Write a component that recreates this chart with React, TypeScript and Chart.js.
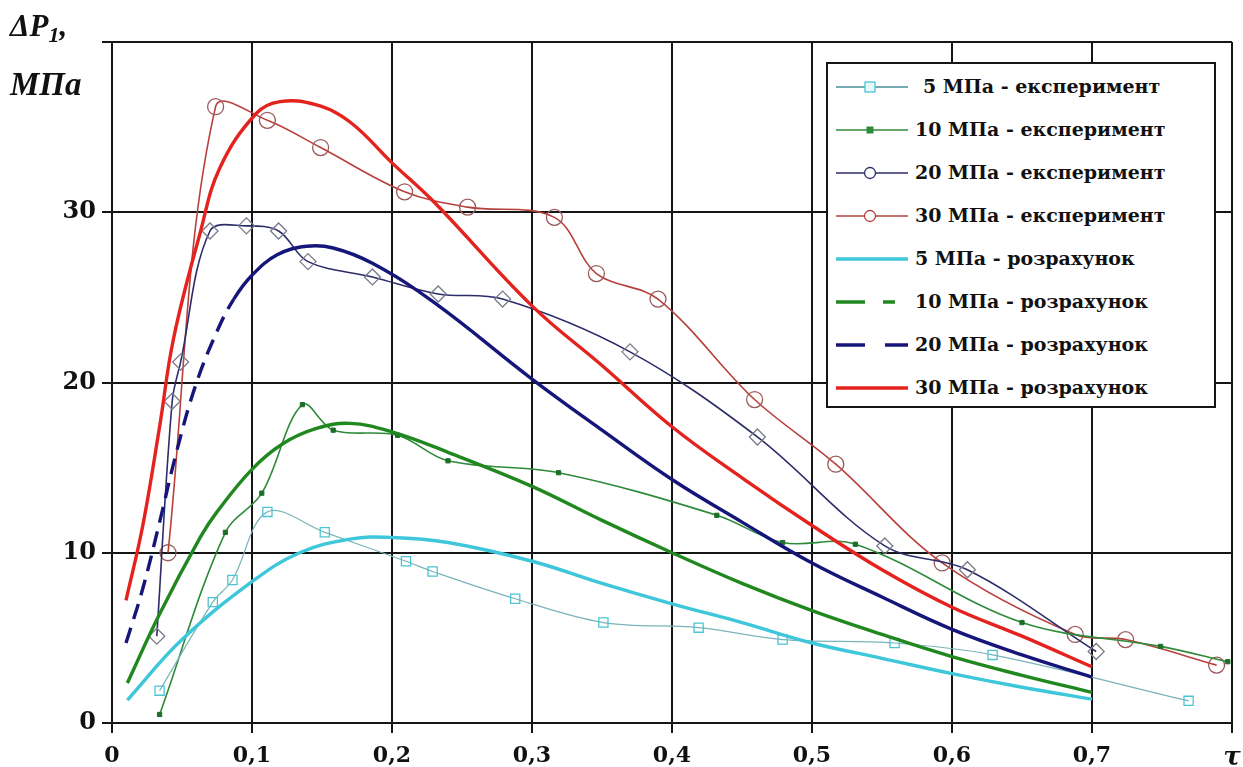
import React, { useEffect, useRef } from "react";
import { Chart, registerables } from "chart.js";

Chart.register(...registerables);

// ---- Data ----
const tau5e = [0.034, 0.072, 0.086, 0.111, 0.152, 0.21, 0.229, 0.288, 0.351, 0.419, 0.479, 0.559, 0.629, 0.769];
const p5e = [1.9, 7.1, 8.4, 12.4, 11.2, 9.5, 8.9, 7.3, 5.9, 5.6, 4.9, 4.7, 4.0, 1.3];

const tau10e = [0.034, 0.081, 0.107, 0.136, 0.158, 0.204, 0.24, 0.319, 0.432, 0.479, 0.531, 0.65, 0.749, 0.797];
const p10e = [0.5, 11.2, 13.5, 18.7, 17.2, 16.9, 15.4, 14.7, 12.2, 10.6, 10.5, 5.9, 4.5, 3.6];

const tau20e = [0.032, 0.043, 0.049, 0.07, 0.096, 0.119, 0.14, 0.186, 0.233, 0.279, 0.37, 0.461, 0.552, 0.611, 0.703];
const p20e = [5.1, 18.9, 21.2, 28.9, 29.2, 28.9, 27.1, 26.2, 25.2, 24.9, 21.8, 16.8, 10.4, 9.0, 4.2];

const tau30e = [0.04, 0.074, 0.111, 0.149, 0.209, 0.254, 0.316, 0.346, 0.39, 0.459, 0.517, 0.593, 0.688, 0.724, 0.789];
const p30e = [10.0, 36.2, 35.4, 33.8, 31.2, 30.3, 29.7, 26.4, 24.9, 19.0, 15.2, 9.4, 5.2, 4.9, 3.4];

const tau5c = [0.011, 0.05, 0.1, 0.134, 0.17, 0.2, 0.24, 0.3, 0.35, 0.4, 0.45, 0.5, 0.55, 0.6, 0.65, 0.7];
const p5c = [1.35, 4.9, 8.3, 10.0, 10.8, 10.9, 10.6, 9.5, 8.2, 7.0, 5.9, 4.7, 3.8, 2.9, 2.1, 1.4];

const tau10c = [0.011, 0.034, 0.063, 0.075, 0.1, 0.122, 0.146, 0.17, 0.2, 0.24, 0.3, 0.35, 0.4, 0.45, 0.5, 0.55, 0.6, 0.65, 0.7];
const p10c = [2.35, 6.4, 10.9, 12.4, 14.9, 16.4, 17.3, 17.6, 17.1, 15.9, 13.9, 11.9, 10.0, 8.2, 6.6, 5.2, 3.9, 2.8, 1.8];

const tau20c = [0.01, 0.022, 0.034, 0.046, 0.06, 0.075, 0.087, 0.1, 0.118, 0.139, 0.158, 0.186, 0.23, 0.3, 0.35, 0.4, 0.45, 0.5, 0.55, 0.6, 0.65, 0.7];
const p20c = [4.7, 7.9, 11.8, 15.9, 19.9, 23.0, 24.9, 26.3, 27.5, 28.0, 27.9, 27.0, 24.7, 20.2, 17.2, 14.3, 11.8, 9.4, 7.4, 5.5, 4.0, 2.7];

const tau30c = [0.01, 0.022, 0.034, 0.044, 0.063, 0.077, 0.103, 0.12, 0.146, 0.17, 0.2, 0.23, 0.3, 0.35, 0.4, 0.45, 0.5, 0.55, 0.6, 0.65, 0.7];
const p30c = [7.2, 11.6, 17.4, 22.6, 28.8, 32.6, 35.8, 36.5, 36.3, 35.3, 32.9, 30.6, 24.5, 21.0, 17.4, 14.4, 11.6, 9.0, 6.8, 5.1, 3.3];

const xTicks = [0, 0.1, 0.2, 0.3, 0.4, 0.5, 0.6, 0.7, 0.8];
const xTickLabels = ["0", "0,1", "0,2", "0,3", "0,4", "0,5", "0,6", "0,7", "τ"];
const yTickLabels = ["0", "10", "20", "30", ""];

const legendLabels = [
  "5 МПа - експеримент",
  "10 МПа - експеримент",
  "20 МПа - експеримент",
  "30 МПа - експеримент",
  "5 МПа - розрахунок",
  "10 МПа - розрахунок",
  "20 МПа - розрахунок",
  "30 МПа - розрахунок",
];

const pts = (xs: number[], ys: number[]) => xs.map((x, i) => ({ x, y: ys[i] }));

const C5e = "#7ab3bb";
const C5eMark = "#4cc4d4";
const C10e = "#2f8a3a";
const C20e = "#2c2c6a";
const C20eMark = "#7a7a8a";
const C30e = "#b8403c";
const C30eMark = "#9c5a5a";
const C5c = "#3ec6da";
const C10c = "#21881f";
const C20c = "#16167a";
const C30c = "#e4221e";

const FONT = "'DejaVu Serif', serif";

function LegendSample({ i }: { i: number }) {
  const w = 72, h = 20, cy = 10, mx = 34;
  const line = (color: string, width: number, x1 = 0, x2 = w) => (
    <line x1={x1} y1={cy} x2={x2} y2={cy} stroke={color} strokeWidth={width} />
  );
  let content: any = null;
  if (i === 0) content = (<>{line("#4a8f9a", 1.5)}<rect x={mx - 5} y={cy - 5} width={10} height={10} fill="#e8f8fa" stroke={C5eMark} strokeWidth={1.3} /></>);
  if (i === 1) content = (<>{line(C10e, 1.5)}<rect x={mx - 3.5} y={cy - 3.5} width={7} height={7} fill={C10e} /></>);
  if (i === 2) content = (<>{line(C20e, 1.5)}<circle cx={mx} cy={cy} r={5.5} fill="#fff" stroke={C20e} strokeWidth={1.3} /></>);
  if (i === 3) content = (<>{line(C30e, 1.5)}<circle cx={mx} cy={cy} r={5.5} fill="#fff" stroke={C30e} strokeWidth={1.3} /></>);
  if (i === 4) content = line(C5c, 3.5);
  if (i === 5) content = (<>{line(C10c, 3.5, 0, 29)}{line(C10c, 3.5, 47, 59)}</>);
  if (i === 6) content = (<>{line(C20c, 3.5, 0, 29)}{line(C20c, 3.5, 49, 72)}</>);
  if (i === 7) content = line(C30c, 3.5);
  return (
    <svg width={w} height={h} style={{ position: "absolute", left: 8, top: 0 }}>
      {content}
    </svg>
  );
}

export default function App() {
  const canvasRef = useRef<HTMLCanvasElement | null>(null);

  useEffect(() => {
    const canvas = canvasRef.current;
    if (!canvas) return;
    const thin = 1.6;
    const thick = 3.4;
    const chart = new Chart(canvas, {
      type: "line",
      data: {
        datasets: [
          {
            label: legendLabels[4], data: pts(tau5c, p5c), borderColor: C5c, borderWidth: thick,
            pointRadius: 0, tension: 0.4, fill: false,
          },
          {
            label: legendLabels[5], data: pts(tau10c, p10c), borderColor: C10c, borderWidth: thick,
            pointRadius: 0, tension: 0.4, fill: false,
          },
          {
            label: legendLabels[6], data: pts(tau20c, p20c), borderColor: C20c, borderWidth: thick,
            pointRadius: 0, tension: 0.4, fill: false,
            segment: {
              borderDash: (ctx: any) => (ctx.p0.parsed.x < 0.085 ? [16, 9] : []),
            },
          },
          {
            label: legendLabels[7], data: pts(tau30c, p30c), borderColor: C30c, borderWidth: thick,
            pointRadius: 0, tension: 0.4, fill: false,
          },
          {
            label: legendLabels[0], data: pts(tau5e, p5e), borderColor: C5e, borderWidth: 1.2,
            tension: 0.35, pointStyle: "rect", pointRadius: 6.5, pointBorderColor: C5eMark,
            pointBackgroundColor: "rgba(255,255,255,0)", pointBorderWidth: 1.3, fill: false,
          },
          {
            label: legendLabels[1], data: pts(tau10e, p10e), borderColor: C10e, borderWidth: thin,
            tension: 0.35, pointStyle: "rect", pointRadius: 3, pointBorderColor: "#1d6e28",
            pointBackgroundColor: "#1d6e28", pointBorderWidth: 1, fill: false,
          },
          {
            label: legendLabels[2], data: pts(tau20e, p20e), borderColor: C20e, borderWidth: thin,
            tension: 0.35, pointStyle: "rectRot", pointRadius: 8, pointBorderColor: C20eMark,
            pointBackgroundColor: "rgba(255,255,255,0)", pointBorderWidth: 1.3, fill: false,
          },
          {
            label: legendLabels[3], data: pts(tau30e, p30e), borderColor: C30e, borderWidth: thin,
            tension: 0.35, pointStyle: "circle", pointRadius: 8, pointBorderColor: C30eMark,
            pointBackgroundColor: "rgba(255,255,255,0)", pointBorderWidth: 1.3, fill: false,
          },
        ],
      },
      options: {
        responsive: false,
        animation: false,
        devicePixelRatio: 1,
        layout: { padding: { left: 0, top: 42, right: 11, bottom: 0 } },
        plugins: { legend: { display: false }, tooltip: { enabled: false } },
        events: [],
        scales: {
          x: {
            type: "linear",
            min: 0,
            max: 0.8,
            afterBuildTicks: (scale: any) => {
              scale.ticks = xTicks.map((v) => ({ value: v }));
            },
            afterFit: (scale: any) => {
              scale.height = 44;
              scale.paddingLeft = 0;
              scale.paddingRight = 0;
            },
            ticks: {
              color: "#111",
              padding: 10,
              maxRotation: 0,
              autoSkip: false,
              font: (ctx: any) =>
                ctx.tick && Math.abs(ctx.tick.value - 0.8) < 1e-6
                  ? { family: FONT, size: 26, weight: "bold", style: "italic" }
                  : { family: FONT, size: 22, weight: "bold" },
              callback: (value: any) => {
                const idx = xTicks.findIndex((t) => Math.abs(t - Number(value)) < 1e-6);
                return idx >= 0 ? xTickLabels[idx] : "";
              },
            },
            grid: { color: "#151515", lineWidth: 2, tickLength: 10, drawTicks: true },
            border: { display: true, color: "#151515", width: 2 },
          },
          y: {
            min: 0,
            max: 40,
            afterBuildTicks: (scale: any) => {
              scale.ticks = [0, 10, 20, 30, 40].map((v) => ({ value: v }));
            },
            afterFit: (scale: any) => {
              scale.width = 112;
              scale.paddingTop = 0;
              scale.paddingBottom = 0;
            },
            ticks: {
              color: "#111",
              padding: 6,
              font: { family: FONT, size: 24, weight: "bold" },
              callback: (value: any) => yTickLabels[Math.round(Number(value) / 10)] ?? "",
            },
            grid: { color: "#151515", lineWidth: 2, tickLength: 10, drawTicks: true },
            border: { display: true, color: "#151515", width: 2 },
          },
        },
      },
    } as any);
    return () => chart.destroy();
  }, []);

  const rowTop0 = 87 - 64;
  const rowH = 43.0;

  return (
    <div style={{ position: "absolute", left: 0, top: 0, width: 1243, height: 767, background: "#fff", overflow: "hidden" }}>
      <canvas ref={canvasRef} width={1243} height={767} style={{ position: "absolute", left: 0, top: 0, width: 1243, height: 767 }} />
      <div
        style={{
          position: "absolute", left: 10, top: 9, fontFamily: "'Liberation Serif', serif",
          fontWeight: "bold", fontStyle: "italic", fontSize: 31, lineHeight: "34px", color: "#111",
        }}
      >
        ΔP<span style={{ fontSize: 22, position: "relative", top: 6 }}>1</span>,
      </div>
      <div
        style={{
          position: "absolute", left: 10, top: 66, fontFamily: "'Liberation Serif', serif",
          fontWeight: "bold", fontStyle: "italic", fontSize: 33, lineHeight: "36px", color: "#111",
        }}
      >
        МПа
      </div>
      <div
        style={{
          position: "absolute", left: 826, top: 62, width: 386, height: 342,
          border: "2px solid #151515", background: "#fff",
        }}
      >
        {legendLabels.map((lab, i) => (
          <div key={i} style={{ position: "absolute", left: 0, top: rowTop0 + i * rowH - 10, height: 20, width: 380 }}>
            <LegendSample i={i} />
            <div
              style={{
                position: "absolute", left: i === 0 ? 95 : 87, top: -3, whiteSpace: "nowrap",
                fontFamily: FONT, fontWeight: "bold", fontSize: 19, lineHeight: "24px", color: "#111",
              }}
            >
              {lab}
            </div>
          </div>
        ))}
      </div>
    </div>
  );
}
